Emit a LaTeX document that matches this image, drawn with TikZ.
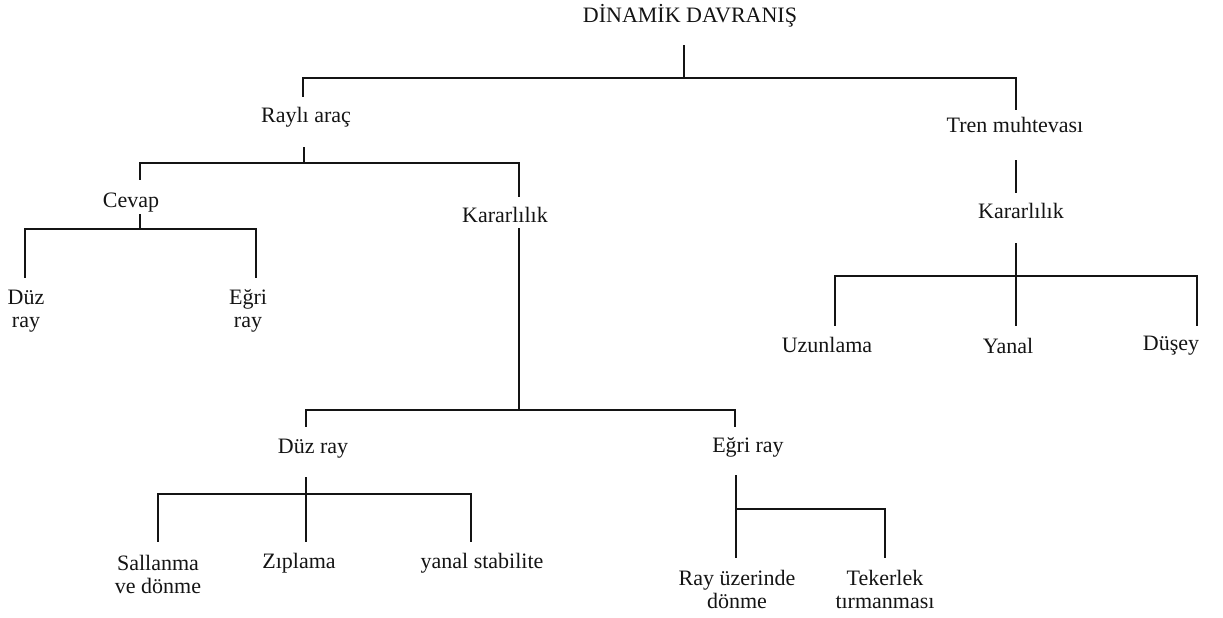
\documentclass[tikz,border=0pt]{standalone}
\usepackage{fontspec}
\setmainfont{Liberation Serif}
\usepackage{tikz}
\usetikzlibrary{calc}
\definecolor{dvink}{HTML}{141414}

\begin{document}
\begin{tikzpicture}[
  x=0.5pt, y=-0.5pt,
  font=\fontsize{11}{11.5}\selectfont,
  lbl/.style={anchor=base, inner sep=0pt, align=center, text=dvink},
  edge/.style={draw=dvink, line width=0.9pt},
]
\useasboundingbox (0,0) rectangle (1223,617);

\newcommand{\branch}[3]{%
  \coordinate (#1bar) at ($(#1)+(0,#2)$);
  \draw[edge] (#1) -- (#1bar);
  \foreach \c in {#3}{\draw[edge] (#1bar) -| (\c);}
}

% ---- top levels ----
\node[lbl] (root)  at (690,22)  {DİNAMİK DAVRANIŞ};
\node[lbl] (rail)  at (306,122) {Raylı araç};
\node[lbl] (train) at (1015,132) {Tren muhtevası};
\node[lbl] (resp)  at (131,207) {Cevap};
\node[lbl] (stabA) at (505,222) {Kararlılık};
\node[lbl] (stabB) at (1021,218) {Kararlılık};

% ---- response leaves (base = last line) ----
\node[lbl] (respS) at (26,327)  {Düz\\ray};
\node[lbl] (respC) at (248,327) {Eğri\\ray};

% ---- train stability leaves ----
\node[lbl] (lon)  at (827,352)  {Uzunlama};
\node[lbl] (lat)  at (1008,353) {Yanal};
\node[lbl] (vert) at (1171,350) {Düşey};

% ---- vehicle stability ----
\node[lbl] (trkS)   at (313,453) {Düz ray};
\node[lbl] (trkC)   at (748,452) {Eğri ray};
\node[lbl] (sway)   at (158,593) {Sallanma\\ve dönme};
\node[lbl] (bounce) at (299,568) {Zıplama};
\node[lbl] (latst)  at (482,568) {yanal stabilite};
\node[lbl] (roll)   at (737,608) {Ray üzerinde\\dönme};
\node[lbl] (climb)  at (885,608) {Tekerlek\\tırmanması};

% ---- line ends ----
\coordinate (rootout)  at ($(root.base)+(-6,23)$);
\coordinate (railin)   at ($(rail.base)+(-3,-25)$);
\coordinate (railout)  at ($(rail.base)+(-2,25)$);
\coordinate (trainin)  at ($(train.base)+(1,-22)$);
\coordinate (trainout) at ($(train.base)+(1,28)$);
\coordinate (respin)   at ($(resp.base)+(9,-27)$);
\coordinate (respout)  at ($(resp.base)+(9,7)$);
\coordinate (stabAin)  at ($(stabA.base)+(14,-25)$);
\coordinate (stabAout) at ($(stabA.base)+(14,6)$);
\coordinate (stabBin)  at ($(stabB.base)+(-5,-25)$);
\coordinate (stabBout) at ($(stabB.base)+(-5,25)$);
\coordinate (respSin)  at ($(respS.base)+(-1,-49)$);
\coordinate (respCin)  at ($(respC.base)+(8,-49)$);
\coordinate (lonin)    at ($(lon.base)+(8,-26)$);
\coordinate (latin)    at ($(lat.base)+(8,-27)$);
\coordinate (vertin)   at ($(vert.base)+(26,-24)$);
\coordinate (trkSin)   at ($(trkS.base)+(-7,-26)$);
\coordinate (trkSout)  at ($(trkS.base)+(-7,24)$);
\coordinate (trkCin)   at ($(trkC.base)+(-13,-25)$);
\coordinate (trkCout)  at ($(trkC.base)+(-12,23)$);
\coordinate (swayin)   at ($(sway.base)+(0,-51)$);
\coordinate (bouncein) at ($(bounce.base)+(7,-26)$);
\coordinate (latstin)  at ($(latst.base)+(-11,-26)$);
\coordinate (rollin)   at ($(roll.base)+(-1,-50)$);
\coordinate (climbin)  at ($(climb.base)+(0,-50)$);

% ---- connectors ----
\branch{rootout}{33}{railin,trainin}
\branch{railout}{16}{respin,stabAin}
\branch{respout}{15}{respSin,respCin}
\branch{stabAout}{182}{trkSin,trkCin}
\draw[edge] (trainout) -- (stabBin);
\branch{stabBout}{33}{lonin,latin,vertin}
\branch{trkSout}{17}{swayin,bouncein,latstin}
\branch{trkCout}{34}{rollin,climbin}

\end{tikzpicture}
\end{document}
